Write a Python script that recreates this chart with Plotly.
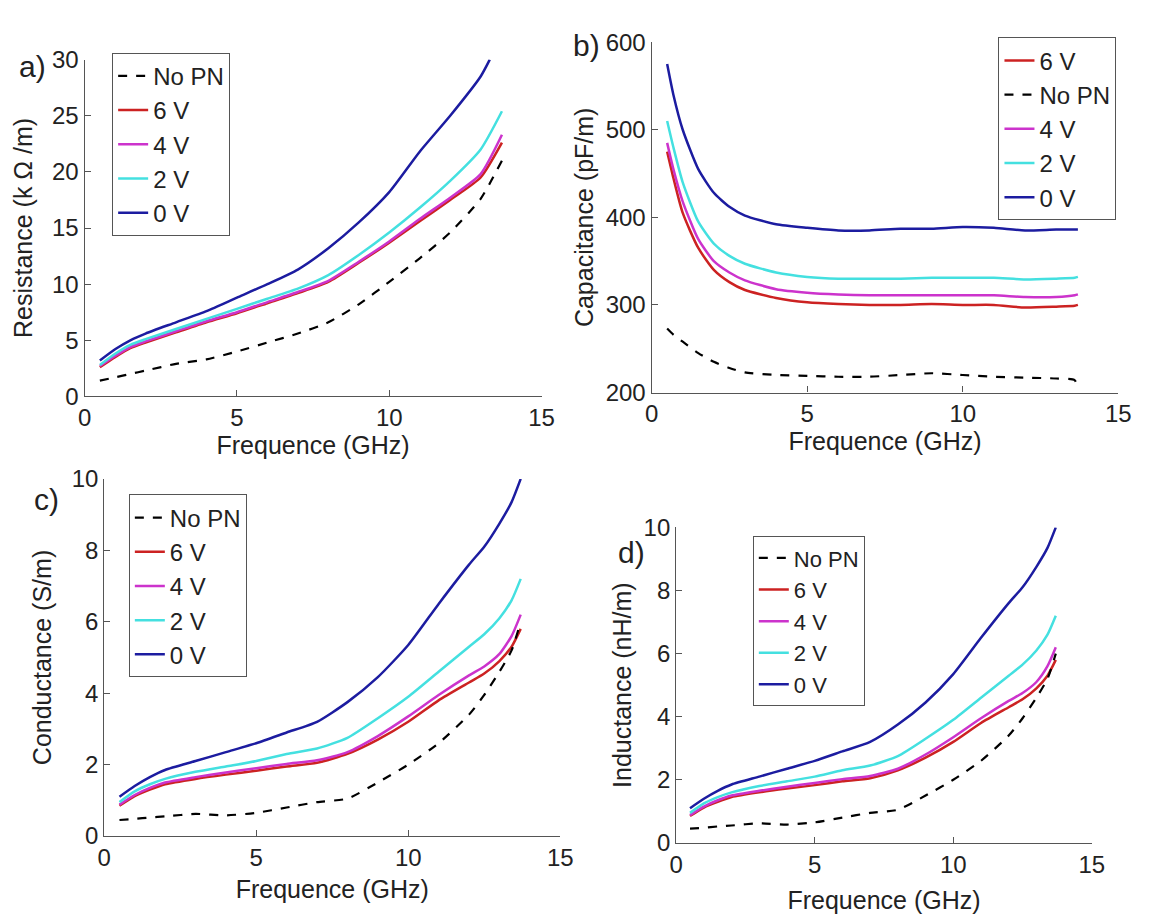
import plotly.graph_objects as go

# ---------------- data ----------------
freq = [0.5, 1, 1.5, 2, 3, 4, 5, 6, 7, 8, 9, 10, 11, 12, 13, 13.7]
series_names = ["No PN", "6 V", "4 V", "2 V", "0 V"]

# a) Resistance (kOhm/m)
res_nopn = [1.4, 1.7, 2.0, 2.3, 2.9, 3.3, 4.0, 4.8, 5.6, 6.6, 8.2, 10.2, 12.3, 14.6, 17.6, 21.0]
res_6v = [2.6, 3.5, 4.3, 4.8, 5.7, 6.6, 7.4, 8.3, 9.2, 10.2, 11.9, 13.7, 15.6, 17.5, 19.5, 22.6]
res_4v = [2.7, 3.6, 4.4, 4.9, 5.8, 6.7, 7.5, 8.4, 9.3, 10.3, 12.0, 13.8, 15.8, 17.7, 19.8, 23.3]
res_2v = [2.8, 3.8, 4.6, 5.1, 6.0, 6.9, 7.8, 8.7, 9.6, 10.8, 12.6, 14.6, 16.8, 19.2, 22.0, 25.4]
freq_0v_a = [0.5, 1, 1.5, 2, 3, 4, 5, 6, 7, 8, 9, 10, 11, 12, 13, 13.3]
res_0v = [3.2, 4.2, 5.0, 5.6, 6.6, 7.6, 8.8, 10.0, 11.3, 13.2, 15.5, 18.2, 21.8, 25.0, 28.5, 30.0]

# b) Capacitance (pF/m)
freq_b = [0.5, 0.7, 1, 1.5, 2, 2.5, 3, 4, 5, 6, 7, 8, 9, 10, 11, 12, 13, 13.6, 13.7]
cap_nopn = [273, 266, 258, 245, 235, 228, 223, 220, 219, 218, 218, 220, 222, 220, 218, 217, 216, 214, 202]
cap_6v = [475, 445, 405, 365, 340, 326, 317, 308, 303, 301, 300, 300, 301, 300, 300, 297, 298, 299, 300]
cap_4v = [485, 455, 418, 375, 350, 337, 328, 318, 314, 312, 311, 311, 311, 311, 311, 309, 309, 311, 312]
cap_2v = [510, 480, 440, 395, 370, 356, 347, 337, 332, 330, 330, 330, 331, 331, 331, 329, 330, 331, 332]
cap_0v = [575, 540, 500, 455, 428, 412, 402, 392, 388, 385, 385, 387, 387, 389, 388, 385, 386, 386, 386]

# c) Conductance (S/m)
freq_cd = [0.5, 1, 1.5, 2, 3, 4, 5, 6, 7, 8, 9, 10, 11, 12, 12.5, 13, 13.4, 13.7]
cond_nopn = [0.45, 0.48, 0.52, 0.55, 0.62, 0.58, 0.65, 0.8, 0.95, 1.05, 1.5, 2.0, 2.6, 3.4, 3.95, 4.6, 5.2, 6.0]
cond_6v = [0.85, 1.12, 1.3, 1.45, 1.6, 1.72, 1.83, 1.95, 2.05, 2.3, 2.7, 3.2, 3.8, 4.3, 4.55, 4.9, 5.3, 5.8]
cond_4v = [0.88, 1.15, 1.35, 1.5, 1.65, 1.78, 1.9, 2.02, 2.12, 2.35, 2.8, 3.35, 3.95, 4.5, 4.75, 5.1, 5.6, 6.2]
cond_2v = [0.95, 1.25, 1.45, 1.6, 1.8, 1.95, 2.1, 2.3, 2.45, 2.75, 3.3, 3.9, 4.6, 5.3, 5.65, 6.1, 6.6, 7.2]
cond_0v = [1.1, 1.4, 1.65, 1.85, 2.1, 2.35, 2.6, 2.9, 3.2, 3.75, 4.45, 5.35, 6.5, 7.6, 8.1, 8.75, 9.35, 10.0]

# d) Inductance (nH/m)
ind_nopn = [0.45, 0.48, 0.52, 0.55, 0.62, 0.58, 0.65, 0.8, 0.95, 1.05, 1.5, 2.0, 2.6, 3.4, 3.95, 4.6, 5.2, 6.0]
ind_6v = [0.85, 1.12, 1.3, 1.45, 1.6, 1.72, 1.83, 1.95, 2.05, 2.3, 2.7, 3.2, 3.8, 4.3, 4.55, 4.9, 5.3, 5.8]
ind_4v = [0.88, 1.15, 1.35, 1.5, 1.65, 1.78, 1.9, 2.02, 2.12, 2.35, 2.8, 3.35, 3.95, 4.5, 4.75, 5.1, 5.6, 6.2]
ind_2v = [0.95, 1.25, 1.45, 1.6, 1.8, 1.95, 2.1, 2.3, 2.45, 2.75, 3.3, 3.9, 4.6, 5.3, 5.65, 6.1, 6.6, 7.2]
ind_0v = [1.1, 1.4, 1.65, 1.85, 2.1, 2.35, 2.6, 2.9, 3.2, 3.75, 4.45, 5.35, 6.5, 7.6, 8.1, 8.75, 9.35, 10.0]

# ---------------- style ----------------
W, H = 1151, 917
FONT = "Liberation Sans, Arial, sans-serif"
colors = {"No PN": "black", "6 V": "#cc2222", "4 V": "#cc33cc", "2 V": "#44e0e0", "0 V": "#1c1ca0"}
AX = "#555555"
TXT = "#222222"

def px_x(a, b):
    return [a / W, b / W]

def px_y(top, bottom):
    return [1 - bottom / H, 1 - top / H]

panels = [
    # xa, ya, legend, xdomain, ydomain, yrange, dtick, ytitle, data, legend order, ytitle standoff, xtitle standoff, legend font
    ("x", "y", "legend", px_x(79, 544), px_y(47, 394), [0, 30], 5, "Resistance (k Ω /m)",
     [(freq, res_nopn), (freq, res_6v), (freq, res_4v), (freq, res_2v), (freq_0v_a, res_0v)],
     ["No PN", "6 V", "4 V", "2 V", "0 V"], 12, 4, 24),
    ("x2", "y2", "legend2", px_x(656, 1131), px_y(29, 390), [200, 600], 100, "Capacitance (pF/m)",
     [(freq_b, cap_nopn), (freq_b, cap_6v), (freq_b, cap_4v), (freq_b, cap_2v), (freq_b, cap_0v)],
     ["6 V", "No PN", "4 V", "2 V", "0 V"], 4, 4, 24),
    ("x3", "y3", "legend3", px_x(99, 563), px_y(479, 847), [0, 10], 2, "Conductance (S/m)",
     [(freq_cd, cond_nopn), (freq_cd, cond_6v), (freq_cd, cond_4v), (freq_cd, cond_2v), (freq_cd, cond_0v)],
     ["No PN", "6 V", "4 V", "2 V", "0 V"], 12, 10, 24),
    ("x4", "y4", "legend4", px_x(681, 1104), px_y(529, 854), [0, 10], 2, "Inductance (nH/m)",
     [(freq_cd, ind_nopn), (freq_cd, ind_6v), (freq_cd, ind_4v), (freq_cd, ind_2v), (freq_cd, ind_0v)],
     ["No PN", "6 V", "4 V", "2 V", "0 V"], 4, 14, 22),
]

legend_pos = {
    "legend": (107, 40),
    "legend2": (1009, 24),
    "legend3": (124, 495),
    "legend4": (759, 538),
}

fig = go.Figure()
layout = dict(
    width=W, height=H,
    margin=dict(l=0, r=0, t=0, b=0),
    paper_bgcolor="white", plot_bgcolor="white",
    font=dict(family=FONT, size=22, color=TXT),
)

draw_order = [1, 2, 3, 4, 0]
for (xa, ya, lg, xd, yd, yr, ydt, ytitle, data, order, ysd, xsd, lfs) in panels:
    for k in draw_order:
        name = series_names[k]
        xs, ys = data[k]
        fig.add_trace(go.Scatter(
            x=xs, y=ys, mode="lines", name=name,
            line=dict(color=colors[name], width=2.5 if name != "No PN" else 2.2,
                      dash="dash" if name == "No PN" else "solid", shape="spline", smoothing=0.6),
            xaxis=xa, yaxis=ya, legend=lg,
            legendrank=order.index(name) + 1,
        ))
    xkey = "xaxis" + xa[1:]
    ykey = "yaxis" + ya[1:]
    common = dict(showline=True, linecolor=AX, linewidth=1.2, ticks="inside", ticklen=6,
                  tickcolor=AX, showgrid=False, zeroline=False, mirror=False,
                  tickfont=dict(family=FONT, size=24, color=TXT))
    layout[xkey] = dict(domain=xd, range=[0, 15], dtick=5, tick0=0, anchor=ya,
                        title=dict(text="Frequence (GHz)", font=dict(family=FONT, size=25, color=TXT), standoff=xsd),
                        **common)
    layout[ykey] = dict(domain=yd, range=yr, dtick=ydt, anchor=xa,
                        title=dict(text=ytitle, font=dict(family=FONT, size=25, color=TXT), standoff=ysd),
                        **common)
    lx, ly = legend_pos[lg]
    layout[lg] = dict(x=lx / W, y=1 - ly / H, xanchor="left", yanchor="top",
                      bgcolor="white", bordercolor=AX, borderwidth=1,
                      font=dict(family=FONT, size=lfs, color=TXT),
                      traceorder="normal", itemwidth=30, tracegroupgap=0)

fig.update_layout(**layout)

for txt, x, y in [("a)", 26, 54), ("b)", 590, 32), ("c)", 40, 500), ("d)", 636, 555)]:
    fig.add_annotation(text=txt, x=x / W, y=1 - y / H, xref="paper", yref="paper",
                       xanchor="center", yanchor="middle",
                       showarrow=False, font=dict(family=FONT, size=30, color=TXT))

fig.write_html("out.html")
